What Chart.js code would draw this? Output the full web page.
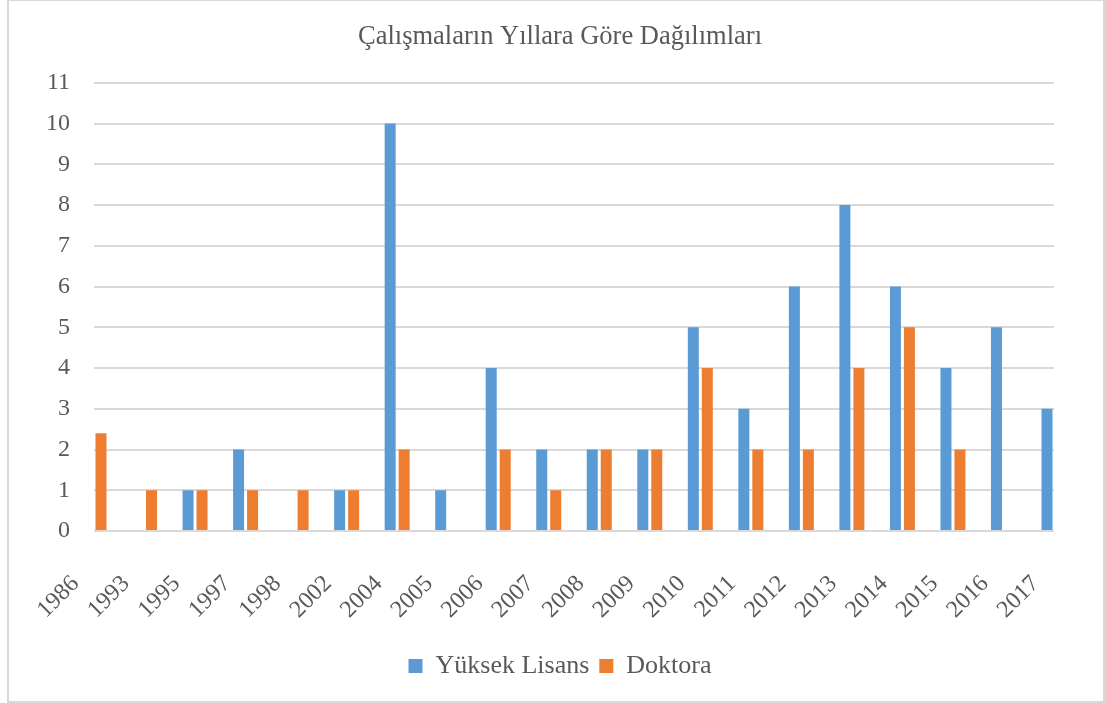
<!DOCTYPE html>
<html>
<head>
<meta charset="utf-8">
<script src="https://cdn.jsdelivr.net/npm/chart.js@4/dist/chart.umd.min.js"></script>
<style>
html,body{margin:0;padding:0;background:#fff;}
#wrap{position:absolute;left:0;top:0;width:1105px;height:703px;}
</style>
</head>
<body>
<div id="wrap"><canvas id="c" width="1105" height="703"></canvas></div>
<script>
const chartTitle = 'Çalışmaların Yıllara Göre Dağılımları';
const years = ['1986','1993','1995','1997','1998','2002','2004','2005','2006','2007','2008','2009','2010','2011','2012','2013','2014','2015','2016','2017'];
const yuksekLisans = [0,0,1,2,0,1,10,1,4,2,2,2,5,3,6,8,6,4,5,3];
const doktora = [2.4,1,1,1,1,1,2,0,2,1,2,2,4,2,2,4,5,2,0,0];
const seriesNames = ['Yüksek Lisans','Doktora'];
const seriesColors = ['#5B9BD5','#ED7D31'];

const FONT = '"Liberation Serif", "Times New Roman", serif';
const TEXT = '#595959';

const frame = {
  id: 'frame',
  afterDraw(chart) {
    const ctx = chart.ctx;
    ctx.save();
    ctx.strokeStyle = '#d9d9d9';
    ctx.lineWidth = 2;
    ctx.strokeRect(8, 0, 1096, 702);
    ctx.restore();
  }
};

new Chart(document.getElementById('c'), {
  type: 'bar',
  data: {
    labels: years,
    datasets: [
      { label: seriesNames[0], data: yuksekLisans, backgroundColor: seriesColors[0], categoryPercentage: 0.554, barPercentage: 0.786 },
      { label: seriesNames[1], data: doktora, backgroundColor: seriesColors[1], categoryPercentage: 0.554, barPercentage: 0.786 }
    ]
  },
  options: {
    responsive: false,
    animation: false,
    devicePixelRatio: 1,
    layout: { padding: { left: 66, right: 51, top: 0, bottom: 14 } },
    plugins: {
      title: {
        display: true,
        text: chartTitle,
        color: TEXT,
        font: { family: FONT, size: 26.5, weight: 'normal' },
        padding: { top: 21, bottom: 30 }
      },
      legend: {
        position: 'bottom',
        labels: {
          color: TEXT,
          font: { family: FONT, size: 26 },
          boxWidth: 14,
          boxHeight: 14,
          padding: 10
        }
      },
      tooltip: { enabled: false }
    },
    scales: {
      x: {
        offset: false,
        grid: { display: false, offset: false, drawTicks: false },
        border: { display: false },
        ticks: {
          color: TEXT,
          font: { family: FONT, size: 24 },
          maxRotation: 45,
          minRotation: 45,
          autoSkip: false,
          labelOffset: -18.5,
          padding: 39
        },
        afterFit(scale) {
          scale.height = 112;
          scale.paddingLeft = 0; scale.paddingRight = 0;
          scale.paddingTop = 0; scale.paddingBottom = 0;
        }
      },
      y: {
        min: 0,
        max: 11,
        grid: { color: '#d9d9d9', lineWidth: 2, drawTicks: false },
        border: { display: false },
        ticks: {
          stepSize: 1,
          color: TEXT,
          font: { family: FONT, size: 24 },
          padding: 24
        },
        afterFit(scale) {
          scale.width = 28;
          scale.paddingTop = 0; scale.paddingBottom = 0;
          scale._computeLabelArea = function () { return undefined; };
        }
      }
    }
  },
  plugins: [frame]
});
</script>
</body>
</html>
